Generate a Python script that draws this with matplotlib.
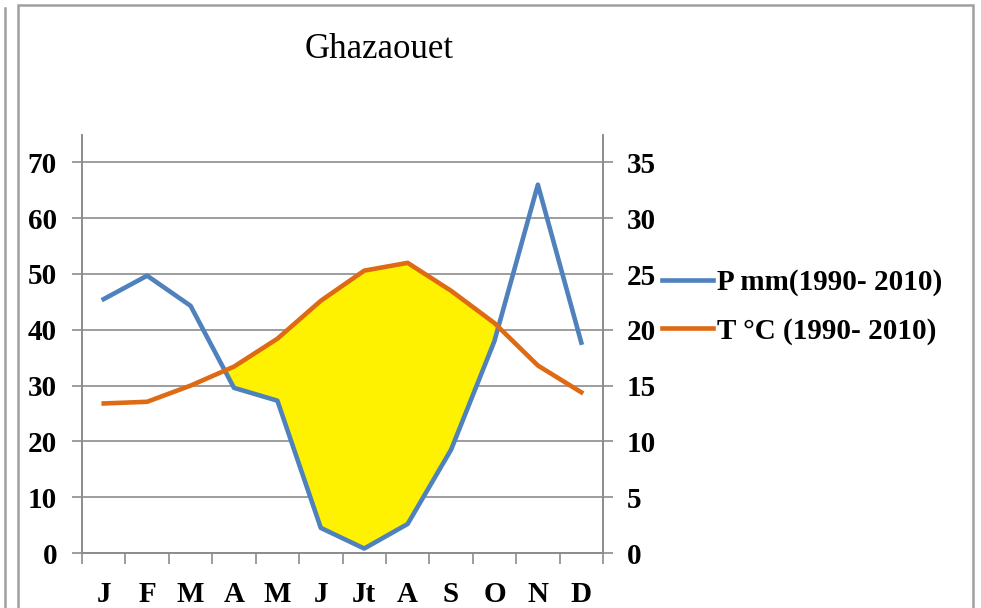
import matplotlib
matplotlib.use("Agg")
import matplotlib.pyplot as plt
import numpy as np
from matplotlib.lines import Line2D
from matplotlib.patches import Rectangle

months = ["J", "F", "M", "A", "M", "J", "Jt", "A", "S", "O", "N", "D"]
precip = [45.5, 49.7, 44.3, 29.6, 27.3, 4.5, 0.8, 5.2, 18.5, 38.0, 66.0, 37.7]
temp = [13.4, 13.55, 15.0, 16.7, 19.2, 22.6, 25.3, 26.0, 23.5, 20.6, 16.8, 14.4]
p_label = "P mm(1990- 2010)"
t_label = "T °C (1990- 2010)"
title = "Ghazaouet"

plt.rcParams['font.family'] = ['Liberation Serif', 'DejaVu Serif']

blue = '#4F81BD'
orange = '#DE6B14'
yellow = '#FFF200'
grid = '#8C8C8C'

fig = plt.figure(figsize=(9.81, 6.08), dpi=100)
W, H = 981, 608
ax = fig.add_axes([82 / W, 1 - 553 / H, (603 - 82) / W, (553 - 134.5) / H])
ax2 = ax.twinx()

x = np.arange(len(months))
p = np.array(precip)
t2 = np.array(temp) * 2

ax.fill_between(x, p, t2, where=t2 >= p, interpolate=True, color=yellow, lw=0, zorder=1)
ax.plot(x, p, color=blue, lw=3.3, zorder=3)
ax2.plot(x, temp, color=orange, lw=3.3, zorder=3)

ax.set_xlim(-0.5, len(months) - 0.5)
ax.set_ylim(0, 75)
ax2.set_ylim(0, 37.5)
ax.set_yticks(np.arange(0, 71, 10))
ax2.set_yticks(np.arange(0, 36, 5))
ax.yaxis.grid(True, color=grid, lw=1.2)
ax.set_axisbelow(True)

ax.set_xticks(x)
ax.set_xticklabels(months)
ax.set_xticks(np.arange(-0.5, len(months), 1), minor=True)
ax.tick_params(axis='x', which='major', length=0, pad=20)
ax.tick_params(axis='x', which='minor', length=8, width=1.2, color=grid, direction='out')
ax.tick_params(axis='y', length=7, width=1.2, color=grid, pad=11)
ax2.tick_params(axis='y', length=7, width=1.2, color=grid, pad=10)

for a in (ax, ax2):
    a.spines['top'].set_visible(False)
    for s in ('left', 'right', 'bottom'):
        a.spines[s].set_color(grid)
        a.spines[s].set_linewidth(1.2)

for lab in ax.get_xticklabels() + ax.get_yticklabels() + ax2.get_yticklabels():
    lab.set_fontsize(21)
    lab.set_fontweight('bold')

fig.text(379 / W, 1 - 50 / H, title, ha='center', va='center', fontsize=25)

handles = [Line2D([], [], color=blue, lw=3.3), Line2D([], [], color=orange, lw=3.3)]
fig.legend(handles, [p_label, t_label], loc='center left',
           bbox_to_anchor=(662 / W, 1 - 307 / H), frameon=False,
           prop={'size': 21, 'weight': 'bold'}, handlelength=1.75,
           handletextpad=0.12, labelspacing=0.72, borderaxespad=0, borderpad=0)

frame = Rectangle((18 / W, -0.05), (973 - 18) / W, 1 - 5 / H + 0.05,
                  transform=fig.transFigure, fill=False, edgecolor='#A0A0A0', lw=1.8)
fig.add_artist(frame)
fig.add_artist(Line2D([5 / W, 5 / W], [0, 1 - 8 / H], transform=fig.transFigure,
                      color='#A0A0A0', lw=1.8))

fig.savefig("out.png", dpi=100)
